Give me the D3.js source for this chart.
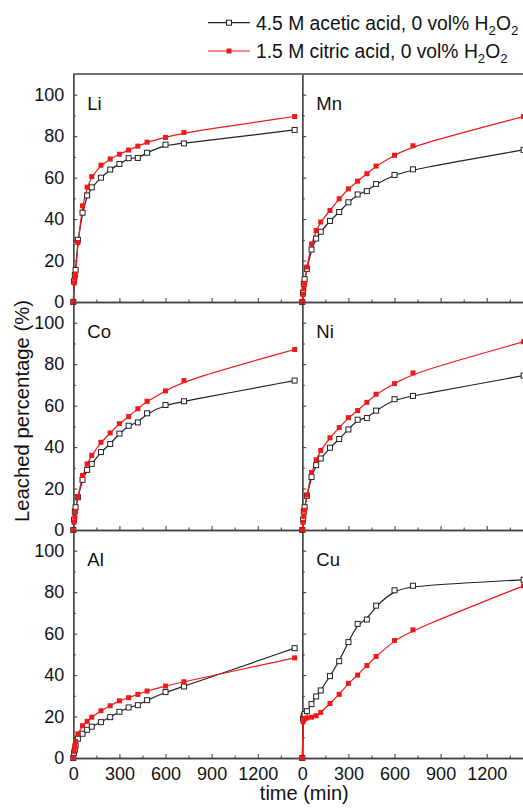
<!DOCTYPE html>
<html><head><meta charset="utf-8">
<script src="https://cdn.jsdelivr.net/npm/d3@7/dist/d3.min.js"></script>
<style>body{margin:0;background:#fff}text{font-family:"Liberation Sans",Arial,sans-serif;fill:#111}</style>
</head><body><svg id="c" width="523" height="810"></svg>
<script>
// ---- data ----
const times = [0,5,10,15,30,60,90,120,180,240,300,360,420,480,600,720,1440];
const elements = ["Li","Mn","Co","Ni","Al","Cu"];
const aceticLi = [0,10,13,15.5,30.0,43.1,51.4,55.3,60.0,63.9,66.6,69.4,69.5,72.0,75.9,76.5,83.0];
const citricLi = [0,9.2,11.5,13.5,28.7,46.4,55.4,60.5,66.0,69.0,71.3,73.3,75.2,77.1,79.4,81.8,89.5];
const aceticMn = [0,4.5,8.8,11,16,25.3,30.6,33.9,39.1,43.4,48.1,51.9,53.5,56.9,61.3,64.0,73.4];
const citricMn = [0,3.6,6.3,9,16.9,28.0,34.5,38.6,44.2,49.8,54.6,58.3,61.9,65.6,70.8,75.4,89.5];
const aceticCo = [0,5,8.9,11,15.8,24.2,29.0,31.9,37.6,41.5,46.5,50.3,51.9,56.3,60.3,62.1,72.1];
const citricCo = [0,3.7,6.1,9,16.1,26.3,31.9,36.0,42.3,46.8,51.3,54.7,58.5,62.1,67.1,72.1,87.1];
const aceticNi = [0,5,8.9,11,16.5,25.6,31.3,34.5,39.7,43.9,48.5,53.2,54.0,57.6,63.1,64.7,74.5];
const citricNi = [0,3.7,6.6,9.5,16.9,27.7,33.9,38.4,44.5,49.4,54.2,57.6,61.6,65.5,70.6,75.8,90.8];
const aceticAl = [0,2.5,4.0,6,9.3,11.7,13.6,15.1,17.3,19.7,22.3,24.4,25.5,27.9,31.8,34.5,53.0];
const citricAl = [0,3.2,5.6,8,11.7,15.6,17.7,19.7,22.8,25.2,27.6,29.1,30.7,32.3,34.7,36.8,48.3];
const aceticCu = [0,19,20.5,21.2,22.6,26.0,29.7,32.6,39.5,46.7,55.9,64.7,66.8,73.5,80.9,83.1,86.0];
const citricCu = [0,17.5,18.5,19.0,19.3,19.7,20.4,22.0,26.3,30.7,36.0,40.0,44.6,49.0,56.7,61.8,83.1];
const aceticSeries = [aceticLi,aceticMn,aceticCo,aceticNi,aceticAl,aceticCu];
const citricSeries = [citricLi,citricMn,citricCo,citricNi,citricAl,citricCu];
const yTicks = [0,20,40,60,80,100];
const yMinor = [10,30,50,70,90];
const xTicks = [0,300,600,900,1200];
const xMinor = [150,450,750,1050,1350];
const legendLabels = [["4.5 M acetic acid, 0 vol% H","2","O","2"],["1.5 M citric acid, 0 vol% H","2","O","2"]];
const xTitle = "time (min)";
const yTitle = "Leached percentage (%)";

// ---- layout ----
const svg = d3.select("#c");
const L = 73.3, T = 74, PW = 229, PH = 228;
const BLACK = "#222", RED = "#f01818", AX = "#444";

elements.forEach((el,i)=>{
  const col = i%2, row = Math.floor(i/2);
  const x0 = L + col*PW, y0 = T + row*PH;
  const x = d3.scaleLinear().domain([0,1490]).range([x0,x0+PW]);
  const y = d3.scaleLinear().domain([0,110]).range([y0+PH,y0]);
  const g = svg.append("g");
  g.append("g").attr("transform",`translate(${x0},0)`)
    .call(d3.axisLeft(y).tickValues(yTicks).tickSizeInner(-4).tickSizeOuter(0).tickPadding(9)
      .tickFormat(col===0? d3.format("d") : ""));
  g.append("g").attr("transform",`translate(${x0},0)`)
    .call(d3.axisLeft(y).tickValues(yMinor).tickSizeInner(-2.5).tickSizeOuter(0).tickFormat(""));
  g.append("g").attr("transform",`translate(0,${y0+PH})`)
    .call(d3.axisBottom(x).tickValues(xTicks).tickSizeInner(-4).tickSizeOuter(0).tickPadding(9)
      .tickFormat(row===2? d3.format("d") : ""));
  g.append("g").attr("transform",`translate(0,${y0+PH})`)
    .call(d3.axisBottom(x).tickValues(xMinor).tickSizeInner(-2.5).tickSizeOuter(0).tickFormat(""));
  g.selectAll(".domain").attr("stroke",AX).attr("stroke-width",1.3);
  g.selectAll(".tick line").attr("stroke",AX).attr("stroke-width",1.1);
  g.selectAll(".tick text").attr("font-size",18).attr("fill","#111").attr("font-family","Liberation Sans, Arial, sans-serif");
  g.append("text").attr("x",x0+14).attr("y",y(92.5)).attr("font-size",18.5).text(el);
  const mk = (vals)=> times.map((t,k)=>({t, v: vals[k]}));
  const line = d3.line().x(d=>x(d.t)).y(d=>y(d.v)).curve(d3.curveBasis);
  const a = mk(aceticSeries[i]), c = mk(citricSeries[i]);
  g.append("path").datum(a).attr("d",line).attr("fill","none").attr("stroke",BLACK).attr("stroke-width",1.2);
  g.append("path").datum(c).attr("d",line).attr("fill","none").attr("stroke",RED).attr("stroke-width",1.2);
  g.selectAll(".ma").data(a).enter().append("rect")
    .attr("x",d=>x(d.t)-2.5).attr("y",d=>y(d.v)-2.5).attr("width",5).attr("height",5)
    .attr("fill","#fff").attr("stroke",BLACK).attr("stroke-width",1);
  g.selectAll(".mc").data(c).enter().append("rect")
    .attr("x",d=>x(d.t)-2.5).attr("y",d=>y(d.v)-2.5).attr("width",5).attr("height",5)
    .attr("fill",RED);
});
svg.append("line").attr("x1",L).attr("x2",L+2*PW).attr("y1",T).attr("y2",T).attr("stroke",AX).attr("stroke-width",1.3);

svg.append("text").attr("x",L+PW+2).attr("y",800).attr("text-anchor","middle").attr("font-size",20).text(xTitle);
svg.append("text").attr("transform",`translate(29,411) rotate(-90)`).attr("text-anchor","middle").attr("font-size",20.3).text(yTitle);

const legY = [22.7, 51];
legendLabels.forEach((parts,k)=>{
  const yy = legY[k];
  const col = k===0? BLACK : RED;
  svg.append("line").attr("x1",208).attr("x2",250).attr("y1",yy).attr("y2",yy).attr("stroke",col).attr("stroke-width",1.2);
  const r = svg.append("rect").attr("x",229-2.5).attr("y",yy-2.5).attr("width",5).attr("height",5);
  if(k===0) r.attr("fill","#fff").attr("stroke",BLACK).attr("stroke-width",1); else r.attr("fill",RED);
  const t = svg.append("text").attr("x",256).attr("y",yy+7).attr("font-size",19.3);
  t.append("tspan").text(parts[0]);
  t.append("tspan").attr("dy",5).attr("font-size",13.3).text(parts[1]);
  t.append("tspan").attr("dy",-5).text(parts[2]);
  t.append("tspan").attr("dy",5).attr("font-size",13.3).text(parts[3]);
});
</script></body></html>
